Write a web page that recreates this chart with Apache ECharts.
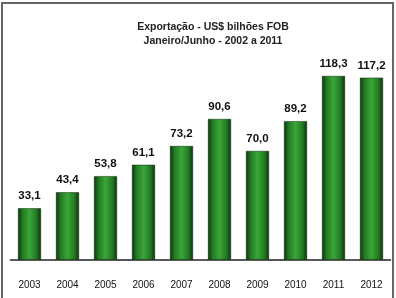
<!DOCTYPE html>
<html><head><meta charset="utf-8">
<script src="https://cdn.jsdelivr.net/npm/echarts@6/dist/echarts.min.js"></script>
<style>html,body{margin:0;padding:0;background:#fff}#c{width:396px;height:298px}</style>
</head><body><div id="c"></div>
<script>
var titleLines = ['Exportação - US$ bilhões FOB', 'Janeiro/Junho - 2002 a 2011'];
var years = ['2003','2004','2005','2006','2007','2008','2009','2010','2011','2012'];
var values = [33.1, 43.4, 53.8, 61.1, 73.2, 90.6, 70.0, 89.2, 118.3, 117.2];

var FONT = '"Liberation Sans", Arial, sans-serif';
var chart = echarts.init(document.getElementById('c'), null, {renderer:'canvas'});
var grad = new echarts.graphic.LinearGradient(0,0,1,0,[
  {offset:0,color:'#0c330c'},{offset:0.2,color:'#237a23'},{offset:0.5,color:'#3aa63a'},
  {offset:0.8,color:'#237a23'},{offset:1,color:'#0c330c'}]);
chart.setOption({
  animation:false,
  title:{text:titleLines.join('\n'),left:208,top:15,textAlign:'center',
    textStyle:{fontFamily:FONT,fontSize:10.5,fontWeight:'bold',color:'#222',lineHeight:14}},
  graphic:[{type:'rect',shape:{x:2,y:3,width:391,height:300},style:{fill:'none',stroke:'#666',lineWidth:2},silent:true}],
  grid:{left:10.5,right:5.5,top:42.3,bottom:38.3},
  xAxis:{type:'category',data:years,
    axisLine:{lineStyle:{color:'#222',width:1.5}},axisTick:{show:false},
    axisLabel:{margin:21,fontFamily:FONT,fontSize:10,color:'#111'}},
  yAxis:{type:'value',min:0,max:140,show:false,splitLine:{show:false}},
  series:[{type:'bar',data:values,barWidth:23,
    itemStyle:{color:grad,borderColor:'#0a2a0a',borderWidth:0.5},
    label:{show:true,position:'top',distance:6,fontFamily:FONT,fontSize:11.5,fontWeight:'bold',color:'#111',
      formatter:function(p){return p.value.toFixed(1).replace('.',',');}}}]
});
</script></body></html>
